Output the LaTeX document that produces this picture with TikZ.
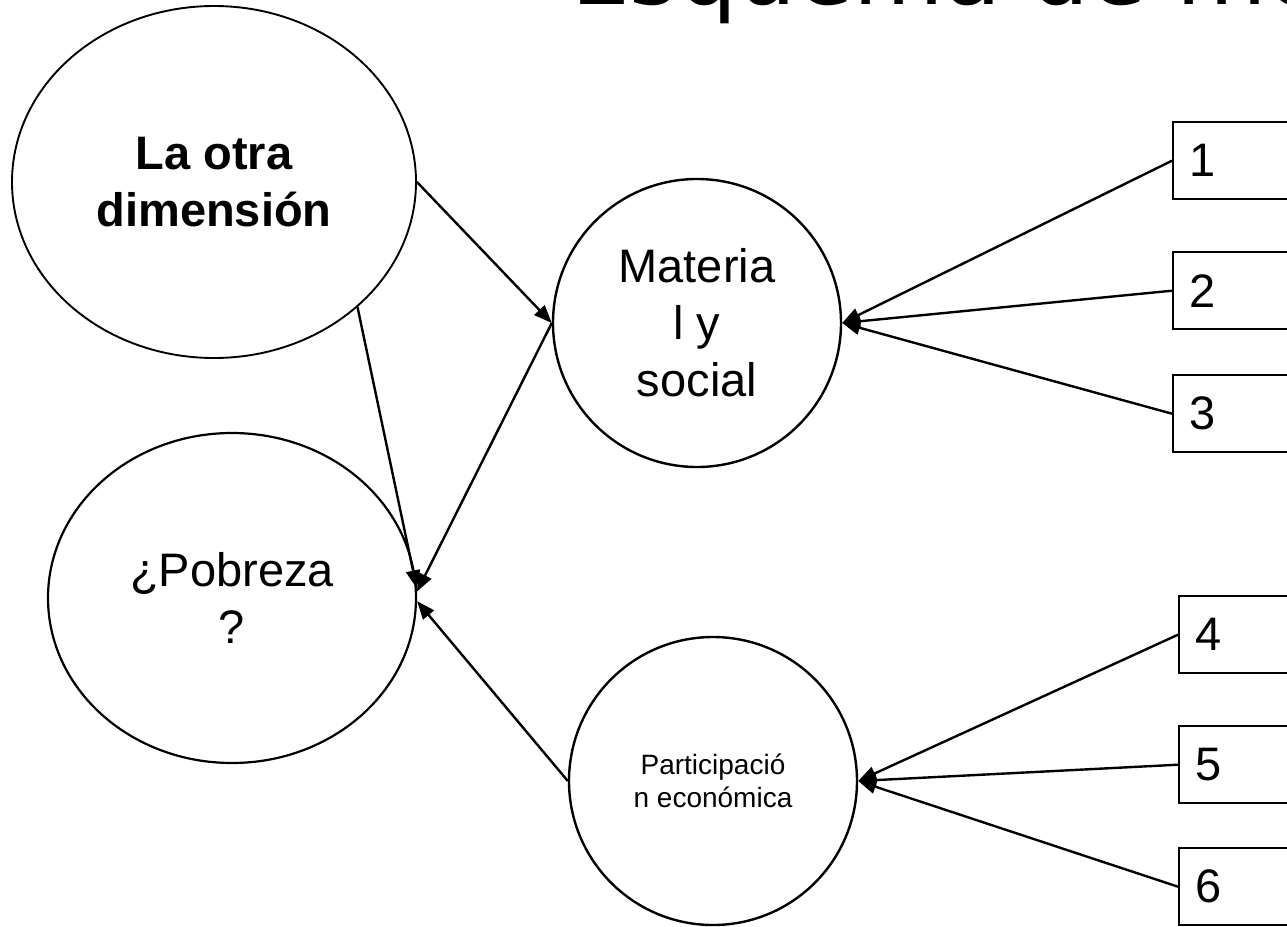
\documentclass[tikz,border=0pt]{standalone}
\usepackage{fontspec}
\setmainfont{Liberation Sans}
\newfontfamily\titlefont{DejaVu Sans}
\usetikzlibrary{shapes.geometric,arrows.meta}
\begin{document}
\begin{tikzpicture}[x=1pt,y=-1pt,
  every node/.style={inner sep=0pt},
  bub/.style={draw, line width=2.2pt, ellipse, align=center},
  circ/.style={draw, line width=2.4pt, circle, minimum size=288pt, align=center},
  numbox/.style={draw, line width=2.4pt, rectangle, anchor=north west,
    minimum width=140pt, minimum height=77pt, text width=108pt, inner xsep=16pt,
    align=left, font=\fontsize{47}{57}\selectfont},
  conn/.style={line width=2.4pt, -{Triangle[length=18pt,width=14pt]}}]
\useasboundingbox (0,0) rectangle (1287,926);
\clip (0,0) rectangle (1287,926);
\fill[white] (0,0) rectangle (1287,926);

% title (cut off at the top, as in the reference)
\node[anchor=base west, font=\titlefont\fontsize{93}{100}\selectfont] (title) at (571,5) {Esquema de mo};

% main shapes
\node[bub, line width=1.9pt, minimum width=404pt, minimum height=352pt, font=\bfseries\fontsize{47}{57}\selectfont] (otra) at (214,182) {La otra\\dimensión};
\node[bub, minimum width=368pt, minimum height=330pt, font=\fontsize{47}{57}\selectfont] (pob) at (232,598) {¿Pobreza\\?};
\node[circ, font=\fontsize{47}{57}\selectfont] (mat) at (697,323) {Materia\\l y\\social};
\node[circ, font=\fontsize{28}{33}\selectfont] (par) at (713,781) {Participació\\n económica};

% numbered boxes
\node[numbox] (b1) at (1172,121) {1};
\node[numbox] (b2) at (1172,251) {2};
\node[numbox] (b3) at (1172,374) {3};
\node[numbox] (b4) at (1178,595) {4};
\node[numbox] (b5) at (1178,725) {5};
\node[numbox] (b6) at (1178,847) {6};

% connectors
\draw[conn] (otra.east) -- (mat.west);
\draw[conn] (mat.west) -- (pob.2);
\draw[conn] (otra.south east) -- (pob.3);
\draw[conn] (par.west) -- (pob.-1);
\draw[conn] (b1.west) -- (mat.east);
\draw[conn] (b2.west) -- (mat.east);
\draw[conn] (b3.west) -- (mat.east);
\draw[conn] (b4.west) -- (par.east);
\draw[conn] (b5.west) -- (par.east);
\draw[conn] (b6.west) -- (par.east);
\end{tikzpicture}
\end{document}
